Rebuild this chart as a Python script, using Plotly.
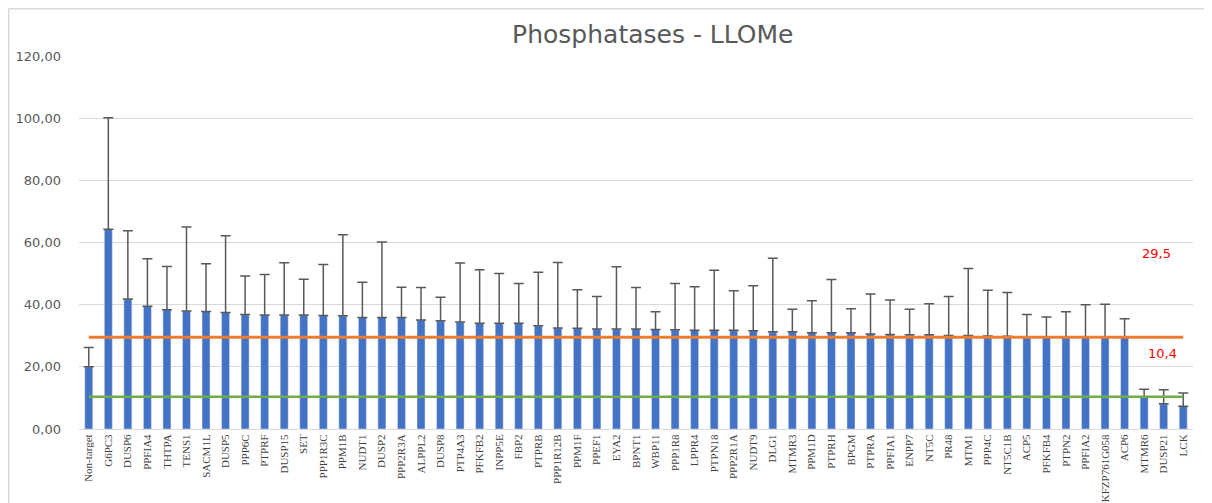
import plotly.graph_objects as go

genes = [
    "Non-target", "G6PC3", "DUSP6", "PPFIA4", "THTPA", "TENS1", "SACM1L", "DUSP5",
    "PPP6C", "PTPRF", "DUSP15", "SET", "PPP1R3C", "PPM1B", "NUDT1", "DUSP2",
    "PPP2R3A", "ALPPL2", "DUSP8", "PTP4A3", "PFKFB2", "INPP5E", "FBP2", "PTPRB",
    "PPP1R12B", "PPM1F", "PPEF1", "EYA2", "BPNT1", "WBP11", "PPP1R8", "LPPR4",
    "PTPN18", "PPP2R1A", "NUDT9", "DLG1", "MTMR3", "PPM1D", "PTPRH", "BPGM",
    "PTPRA", "PPFIA1", "ENPP7", "NT5C", "PR48", "MTM1", "PPP4C", "NT5C1B",
    "ACP5", "PFKFB4", "PTPN2", "PPFIA2", "DKFZP761G058", "ACP6", "MTMR6", "DUSP21",
    "LCK",
]
values = [
    20.0, 64.3, 41.8, 39.5, 38.4, 38.0, 37.8, 37.5, 36.8, 36.7, 36.7, 36.7, 36.5,
    36.4, 35.9, 35.9, 35.9, 35.1, 34.8, 34.4, 34.0, 34.0, 34.0, 33.2, 32.5, 32.4,
    32.2, 32.2, 32.2, 32.0, 31.9, 31.8, 31.8, 31.8, 31.6, 31.3, 31.3, 31.0, 31.0,
    31.0, 30.6, 30.4, 30.3, 30.3, 30.1, 30.1, 29.9, 29.8, 29.7, 29.7, 29.7, 29.6,
    29.6, 29.5, 10.4, 8.1, 7.3,
]
errors = [
    6.2, 35.8, 22.0, 15.3, 13.9, 27.0, 15.4, 24.7, 12.4, 13.0, 16.8, 11.5, 16.4,
    26.1, 11.3, 24.3, 9.7, 10.4, 7.6, 19.0, 17.2, 16.0, 12.8, 17.2, 21.1, 12.4,
    10.4, 20.0, 13.3, 5.7, 14.9, 14.0, 19.3, 12.7, 14.5, 23.6, 7.2, 10.3, 17.1,
    7.7, 12.8, 11.1, 8.2, 10.0, 12.5, 21.5, 14.7, 14.1, 7.1, 6.3, 8.0, 10.4,
    10.5, 6.0, 2.4, 4.5, 4.3,
]
upper_cut = 29.5
lower_cut = 10.4
y_ticks = [0, 20, 40, 60, 80, 100, 120]
y_tick_text = ["0,00", "20,00", "40,00", "60,00", "80,00", "100,00", "120,00"]

fig = go.Figure()

fig.add_trace(go.Bar(
    x=genes,
    y=values,
    marker_color="#4472C4",
    error_y=dict(
        type="data",
        symmetric=False,
        array=errors,
        arrayminus=[0] * len(errors),
        color="#595959",
        thickness=1.5,
        width=5,
    ),
))

# threshold lines
fig.add_trace(go.Scatter(
    x=[genes[0], genes[-1]],
    y=[upper_cut, upper_cut],
    mode="lines",
    line=dict(color="#ED7D31", width=3),
))
fig.add_trace(go.Scatter(
    x=[genes[0], genes[-1]],
    y=[lower_cut, lower_cut],
    mode="lines",
    line=dict(color="#70AD47", width=2.5),
))

fig.add_annotation(x=0.967, xref="paper", xanchor="center", y=56.6, yref="y",
                   text=f"{upper_cut}".replace(".", ","), showarrow=False,
                   font=dict(family="DejaVu Sans", size=13, color="#FF0000"))
fig.add_annotation(x=0.973, xref="paper", xanchor="center", y=24.2, yref="y",
                   text=f"{lower_cut}".replace(".", ","), showarrow=False,
                   font=dict(family="DejaVu Sans", size=13, color="#FF0000"))

# chart border (left and top)
fig.add_shape(type="line", xref="paper", yref="paper",
              x0=-0.0631, x1=-0.0631, y0=1.1267, y1=-0.3,
              line=dict(color="#D9D9D9", width=1.5))
fig.add_shape(type="line", xref="paper", yref="paper",
              x0=-0.0631, x1=1.1, y0=1.1267, y1=1.1267,
              line=dict(color="#D9D9D9", width=1.5))

fig.update_layout(
    width=1212,
    height=503,
    margin=dict(l=71, r=27, t=48, b=82),
    paper_bgcolor="white",
    plot_bgcolor="white",
    showlegend=False,
    bargap=0.59,
    title=dict(
        text="Phosphatases - LLOMe",
        x=0.532,
        xanchor="center",
        y=0.948,
        yanchor="middle",
        font=dict(family="DejaVu Sans", size=25, color="#595959"),
    ),
    xaxis=dict(
        automargin=False,
        tickangle=-90,
        tickfont=dict(family="Liberation Serif", size=11, color="#404040"),
        showgrid=False,
        showline=True,
        linecolor="#D9D9D9",
        ticks="",
    ),
    yaxis=dict(
        automargin=False,
        range=[0, 120],
        tickvals=y_ticks,
        ticktext=y_tick_text,
        tickfont=dict(family="DejaVu Sans", size=13, color="#595959"),
        gridcolor="#D9D9D9",
        zeroline=False,
        showline=False,
        ticklabelstandoff=17,
    ),
)

fig.write_html("out.html")
